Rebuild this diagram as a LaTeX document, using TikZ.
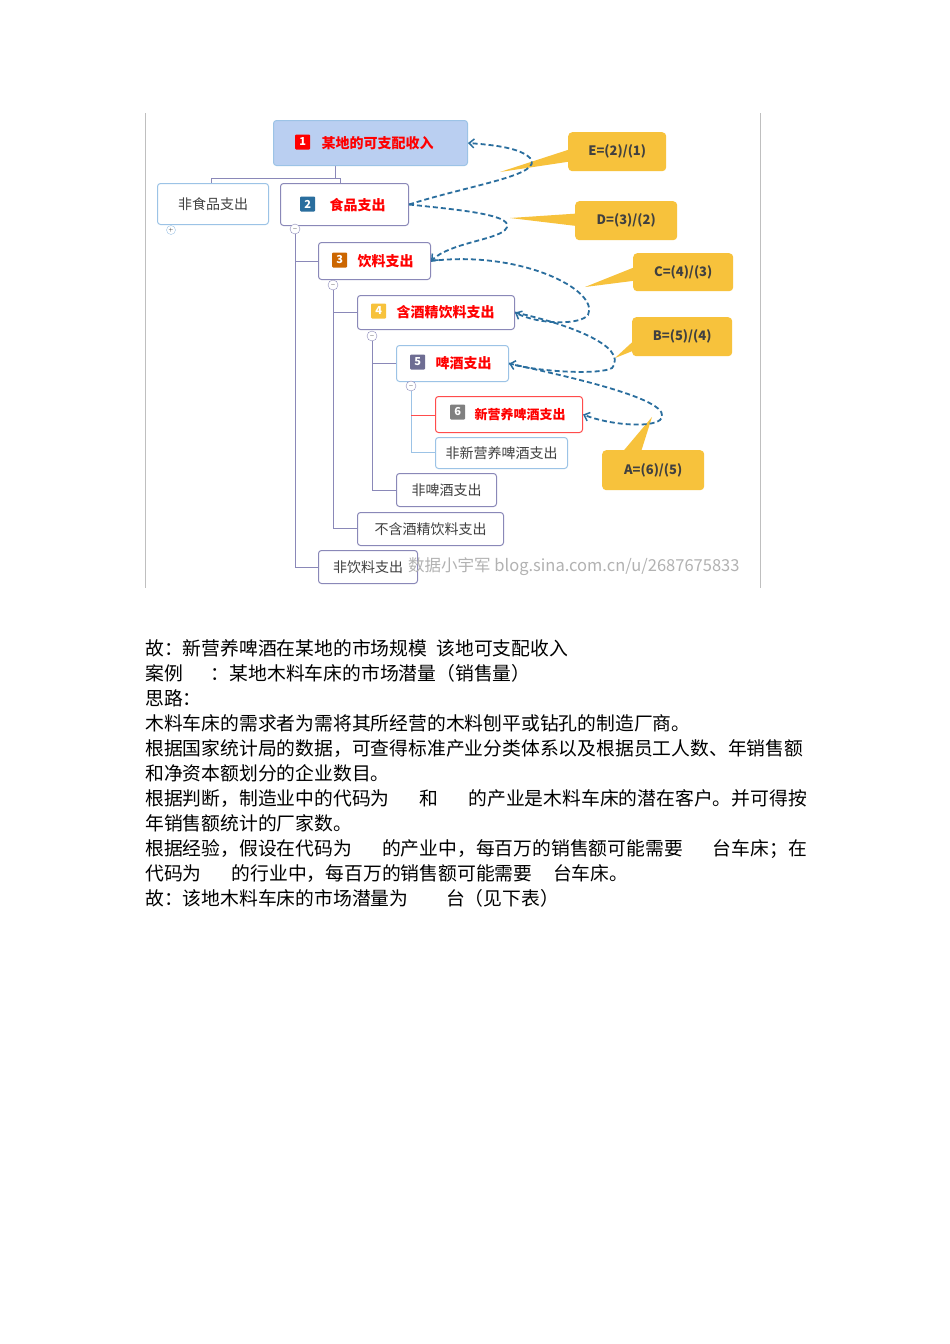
\documentclass[tikz,border=0pt]{standalone}
\usepackage{fontspec}
\setmainfont{Noto Sans CJK SC}
\usetikzlibrary{arrows.meta}
\definecolor{bx}{HTML}{8A88B8}
\definecolor{lbx}{HTML}{9CC3E6}
\definecolor{ylw}{HTML}{F7C23C}
\definecolor{arr}{HTML}{2A6E9E}
\tikzset{
 box/.style={draw=bx,line width=1pt,rounded corners=3pt,fill=white,inner sep=0pt,font=\fontsize{14}{14}\selectfont,text=black!75},
 lbox/.style={box,draw=lbx},
 rtxt/.style={text=red,font=\fontsize{14}{14}\selectfont\bfseries},
 call/.style={fill=ylw,rounded corners=4pt,inner sep=0pt,font=\fontsize{13}{13}\selectfont\bfseries,text=black!75},
 tri/.style={fill=ylw,draw=none},
 tl/.style={draw=bx,line width=1pt},
 da/.style={draw=arr,dash pattern=on 5pt off 3pt,line width=1.8pt,-{Straight Barb[length=5pt,width=9pt,line width=1.5pt]}},
 num/.style={fill=#1,text=white,font=\fontsize{11}{11}\selectfont\bfseries,minimum size=15pt,inner sep=0pt,rounded corners=1pt},
 txt/.style={anchor=base west,font=\fontsize{18.8}{18.8}\selectfont,text=black,inner sep=0pt}
}
\begin{document}
\begin{tikzpicture}[x=1pt,y=-1pt]
\useasboundingbox[fill=white] (0,0) rectangle (950,1344);
\draw[black!25] (145,113) -- (145,588) (760,113) -- (760,588);
% tree lines
\draw[tl] (335,165) -- (335,178) -- (211,178) -- (211,183);
\draw[tl] (335,178) -- (340,178) -- (340,183);
\draw[tl] (295,232) -- (295,567) -- (318,567);
\draw[tl] (295,261) -- (318,261);
\draw[tl] (333,290) -- (333,528) -- (357,528);
\draw[tl] (333,312) -- (357,312);
\draw[tl] (372,340) -- (372,490) -- (396,490);
\draw[tl] (372,363) -- (396,363);
\draw[lbx,line width=1pt] (411,390) -- (411,452) -- (435,452);
\draw[red!70,line width=1pt] (411,415) -- (435,415);
% nodes
\node[box,draw=lbx,fill=lbx!90!blue!60,minimum width=194pt,minimum height=45pt,anchor=north west] (n1) at (273,120) {};
\node[num=red,anchor=west] (k1) at (295,142) {1};
\node[rtxt,anchor=west] at (318,143) {某地的可支配收入};
\node[lbox,minimum width=111pt,minimum height=41pt,anchor=north west] (nf) at (157,183) {非食品支出};
\node[box,minimum width=128pt,minimum height=42pt,anchor=north west] (n2) at (280,183) {};
\node[num=arr,anchor=west] at (300,204) {2};
\node[rtxt,anchor=west] at (326,205) {食品支出};
\node[box,minimum width=112pt,minimum height=37pt,anchor=north west] (n3) at (318,242) {};
\node[num=orange!80!black,anchor=west] at (332,260) {3};
\node[rtxt,anchor=west] at (354,261) {饮料支出};
\node[box,minimum width=157pt,minimum height=34pt,anchor=north west] (n4) at (357,295) {};
\node[num=ylw,anchor=west] at (371,311) {4};
\node[rtxt,anchor=west] at (393,312) {含酒精饮料支出};
\node[lbox,minimum width=112pt,minimum height=36pt,anchor=north west] (n5) at (396,345) {};
\node[num=bx!80!black,anchor=west] at (410,362) {5};
\node[rtxt,anchor=west] at (432,363) {啤酒支出};
\node[box,draw=red!70,minimum width=147pt,minimum height=36pt,anchor=north west] (n6) at (435,396) {};
\node[num=gray,anchor=west] at (450,412) {6};
\node[rtxt,font=\fontsize{13}{13}\selectfont\bfseries,anchor=west] at (471,415) {新营养啤酒支出};
\node[lbox,minimum width=132pt,minimum height=31pt,anchor=north west] (n7) at (435,437) {非新营养啤酒支出};
\node[box,minimum width=100pt,minimum height=33pt,anchor=north west] (n8) at (396,473) {非啤酒支出};
\node[box,minimum width=146pt,minimum height=33pt,anchor=north west] (n9) at (357,512) {不含酒精饮料支出};
\node[box,minimum width=99pt,minimum height=33pt,anchor=north west] (n10) at (318,550) {非饮料支出};
\node[text=black!30,font=\fontsize{16.5}{16.5}\selectfont,anchor=west,inner sep=0pt] (wm) at (408,567) {数据小宇军 blog.sina.com.cn/u/2687675833};
% collapse markers
\foreach \p in {(295,229),(333,285),(372,336),(411,386)} \node[draw=bx,circle,fill=white,inner sep=0pt,minimum size=10pt,font=\tiny] at \p {$-$};
\node[draw=lbx,circle,fill=white,inner sep=0pt,minimum size=9pt,font=\tiny] at (171,230) {$+$};
% callout pointers
\fill[tri] (580,146) -- (580,160) -- (500,172) -- cycle;
\fill[tri] (585,213) -- (585,227) -- (510,218) -- cycle;
\fill[tri] (640,265) -- (640,280) -- (585,287) -- cycle;
\fill[tri] (640,335) -- (640,348) -- (615,358) -- cycle;
\fill[tri] (620,455) -- (640,455) -- (652,417) -- cycle;
% callouts
\node[call,minimum width=98pt,minimum height=39pt,anchor=north west] (ce) at (568,132) {E=(2)/(1)};
\node[call,minimum width=102pt,minimum height=39pt,anchor=north west] (cd) at (575,201) {D=(3)/(2)};
\node[call,minimum width=100pt,minimum height=38pt,anchor=north west] (cc) at (633,253) {C=(4)/(3)};
\node[call,minimum width=100pt,minimum height=39pt,anchor=north west] (cb) at (632,317) {B=(5)/(4)};
\node[call,minimum width=102pt,minimum height=40pt,anchor=north west] (ca) at (602,450) {A=(6)/(5)};
% dashed arrows
\draw[da] (n2.east) .. controls (470,185) and (545,175) .. (530,158) .. controls (520,148) and (495,145) .. (n1.east);
\draw[da] (n2.east) .. controls (460,210) and (520,215) .. (505,230) .. controls (495,240) and (450,243) .. (n3.east);
\draw[da] (n3.east) .. controls (520,250) and (600,290) .. (588,315) .. controls (580,325) and (540,325) .. (n4.east);
\draw[da] (n4.east) .. controls (560,322) and (630,345) .. (612,368) .. controls (600,375) and (540,372) .. (n5.east);
\draw[da] (n5.east) .. controls (560,375) and (680,400) .. (660,420) .. controls (650,428) and (610,425) .. (n6.east);
% text
\node[txt] at (145,655) {故：新营养啤酒在某地的市场规模\hspace{0.5em}该地可支配收入};
\node[txt] at (145,680) {案例\hspace{1.5em}：某地木料车床的市场潜量（销售量）};
\node[txt] at (145,705) {思路：};
\node[txt] at (145,730) {木料车床的需求者为需将其所经营的木料刨平或钻孔的制造厂商。};
\node[txt] at (145,755) {根据国家统计局的数据，可查得标准产业分类体系以及根据员工人数、年销售额};
\node[txt] at (145,780) {和净资本额划分的企业数目。};
\node[txt] at (145,805) {根据判断，制造业中的代码为\hspace{1.6em}和\hspace{1.6em}的产业是木料车床的潜在客户。并可得按};
\node[txt] at (145,830) {年销售额统计的厂家数。};
\node[txt] at (145,855) {根据经验，假设在代码为\hspace{1.6em}的产业中，每百万的销售额可能需要\hspace{1.6em}台车床；在};
\node[txt] at (145,880) {代码为\hspace{1.6em}的行业中，每百万的销售额可能需要\hspace{1.1em}台车床。};
\node[txt] at (145,905) {故：该地木料车床的市场潜量为\hspace{2em}台（见下表）};
\end{tikzpicture}
\end{document}
